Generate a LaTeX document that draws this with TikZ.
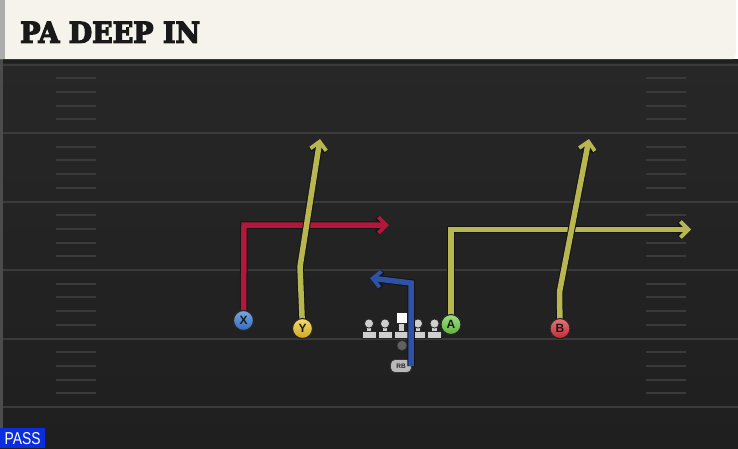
\documentclass[tikz,border=0pt]{standalone}
\usepackage{fontspec}
\setmainfont{Liberation Sans}
\newfontfamily\titlefont{DejaVu Serif}
\usetikzlibrary{arrows.meta}
\definecolor{cream}{HTML}{F5F3EC}
\definecolor{fieldtop}{HTML}{272727}
\definecolor{fieldbot}{HTML}{1F1F1F}
\definecolor{fline}{HTML}{3A3A3A}
\definecolor{hashc}{HTML}{3A3A3A}
\definecolor{ryellow}{HTML}{B8B650}
\definecolor{rred}{HTML}{B3173B}
\definecolor{rblue}{HTML}{2D52A6}
\definecolor{pblue}{HTML}{3C7FD8}
\definecolor{pyellow}{HTML}{F2C72A}
\definecolor{pgreen}{HTML}{71D14A}
\definecolor{pred}{HTML}{E0343F}
\definecolor{lmgray}{HTML}{CFCFCF}
\definecolor{passblue}{HTML}{0B2DE0}
\tikzset{
  hashmark/.style={draw=hashc, line width=2pt},
  fieldline/.style={draw=fline, line width=2pt},
  rout/.style={draw=black!92, line width=7.5pt, line join=miter,
    -{Straight Barb[length=8pt,width=16pt,line width=5.5pt]}},
  rin/.style={draw=#1, line width=5.5pt, line join=miter,
    -{Straight Barb[length=8pt,width=16pt,line width=3.8pt]}},
  player/.style={circle, draw=black!85, line width=1.1pt, minimum size=20pt, inner sep=0pt,
    top color=#1!70!white, bottom color=#1!85!black, text=black!90,
    font=\bfseries\fontsize{12}{12}\selectfont},
  lmpart/.style={fill=lmgray, draw=black!85, line width=0.8pt},
  lineman/.pic={
    \path[lmpart] (-7,0) rectangle (7,-7);
    \path[lmpart] (-2.8,-7) rectangle (2.8,-11.5);
    \path[lmpart] (0,-14.5) circle (4.6);
  },
  centerman/.pic={
    \path[lmpart] (-7,0) rectangle (7,-7);
    \path[lmpart] (-2.8,-7) rectangle (2.8,-15);
    \path[fill=white, draw=black!85, line width=0.8pt] (-5.5,-26) rectangle (5.5,-15);
  }
}
\begin{document}
\begin{tikzpicture}[x=1pt,y=-1pt]
\useasboundingbox (0,0) rectangle (738,448);
% field
\shade[top color=fieldtop, bottom color=fieldbot] (0,59) rectangle (738,448);
\fill[black!88] (0,59) rectangle (738,63);
\fill[black!70] (0,59) rectangle (2.5,448);
% field lines
\foreach \yy in {64.5,133,201.5,270,338.5,407}{
  \path[fieldline] (2.5,\yy) -- (738,\yy);
}
% hash marks
\foreach \s in {64.5,133,201.5,270,338.5}{
  \foreach \k in {1,2,3,4}{
    \path[hashmark] (56,\s+13.7*\k) -- (96,\s+13.7*\k);
    \path[hashmark] (646,\s+13.7*\k) -- (686,\s+13.7*\k);
  }
}
% title bar
\fill[cream] (0,0) -- (736,0) -- (736,54) -- (733,59) -- (0,59) -- cycle;
\fill[black!32] (0,0) rectangle (5,59);
\node[anchor=south west, inner sep=0pt, text=black!90] (title) at (20,43)
  {\resizebox{180pt}{21pt}{\titlefont\bfseries\special{pdf:literal direct 2 Tr 0.45 w}PA DEEP IN\special{pdf:literal direct 0 Tr}}};
% PASS tag
\fill[passblue] (0,428) rectangle (45,448);
\node[anchor=south west, inner sep=0pt, text=white] (pass) at (4.5,444.5)
  {\resizebox{36pt}{12pt}{PASS}};
% line
\pic at (369,338) {lineman};
\pic at (385,338) {lineman};
\pic at (401.5,338) {centerman};
\pic at (418,338) {lineman};
\pic at (434.5,338) {lineman};
\fill[gray!75!black, draw=black!80, line width=0.6pt] (402,345.5) circle (5);
% route points
\coordinate (xbend) at (244,225);
\coordinate (xend) at (389,225);
\coordinate (ybend) at (300,267);
\coordinate (yend) at (320,139);
\coordinate (abend) at (451,229.5);
\coordinate (aend) at (691,229.5);
\coordinate (bbend) at (559.5,292);
\coordinate (bend) at (589,139);
\coordinate (rbbend) at (411,283);
\coordinate (rbend) at (370,278);
% players
\node[player=pblue] (X) at (243.5,320.5) {X};
\node[player=pyellow] (Y) at (302.5,328.5) {Y};
\node[player=pgreen] (A) at (451,324.5) {A};
\node[player=pred] (B) at (560,328.5) {B};
% routes
\path[rout] (X.center) -- (xbend) -- (xend);
\path[rin=rred] (X.center) -- (xbend) -- (xend);
\path[rout] (Y.center) -- (ybend) -- (yend);
\path[rin=ryellow] (Y.center) -- (ybend) -- (yend);
\path[rout] (A.center) -- (abend) -- (aend);
\path[rin=ryellow] (A.center) -- (abend) -- (aend);
\path[rout] (B.center) -- (bbend) -- (bend);
\path[rin=ryellow] (B.center) -- (bbend) -- (bend);
% players on top
\node[player=pblue] at (X) {X};
\node[player=pyellow] at (Y) {Y};
\node[player=pgreen] at (A) {A};
\node[player=pred] at (B) {B};
\node[rounded corners=4.5pt, minimum width=21pt, minimum height=13pt, inner sep=0pt,
  fill=gray!55, draw=black!80, line width=0.8pt, text=black!85,
  font=\bfseries\fontsize{6.5}{6.5}\selectfont] (RB) at (401,366) {RB};
\coordinate (rbstart) at ([xshift=10pt]RB.center);
\path[rout] (rbstart) -- (rbbend) -- (rbend);
\path[rin=rblue] (rbstart) -- (rbbend) -- (rbend);
\end{tikzpicture}
\end{document}
